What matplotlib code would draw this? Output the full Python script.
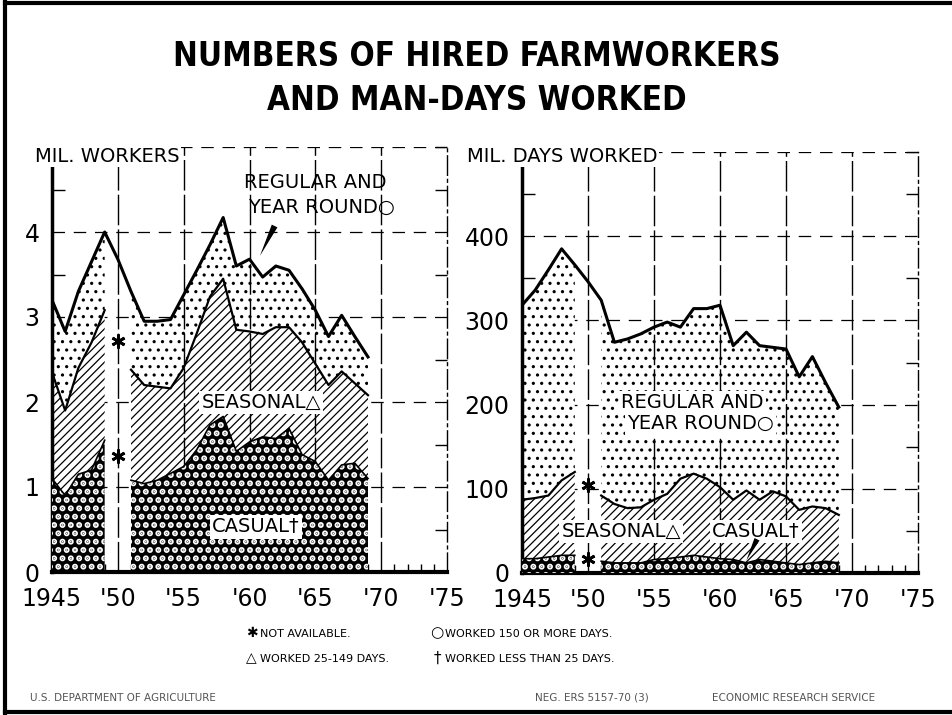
import numpy as np
import matplotlib
matplotlib.use('Agg')
import matplotlib.pyplot as plt
from matplotlib import font_manager as fm
from matplotlib.ticker import MultipleLocator

# data (1950 breakdown not available)
years = np.arange(1945, 1970)
total_workers = [3.2, 2.83, 3.3, 3.65, 4.0, 3.68, 3.3, 2.95, 2.95, 2.97, 3.26, 3.55, 3.85,
                 4.17, 3.6, 3.68, 3.47, 3.6, 3.55, 3.33, 3.08, 2.77, 3.02, 2.77, 2.53]
seasonal_workers = [2.35, 1.9, 2.4, 2.7, 3.08, np.nan, 2.38, 2.2, 2.18, 2.16, 2.4, 2.81, 3.24,
                    3.45, 2.85, 2.83, 2.8, 2.88, 2.88, 2.7, 2.45, 2.2, 2.36, 2.22, 2.08]
casual_workers = [1.1, 0.9, 1.15, 1.2, 1.55, np.nan, 1.08, 1.04, 1.08, 1.16, 1.24, 1.44, 1.73,
                  1.83, 1.42, 1.53, 1.59, 1.57, 1.69, 1.38, 1.3, 1.08, 1.26, 1.28, 1.1]
total_days = [318, 336, 360, 385, 366, 346, 324, 274, 278, 284, 292, 298, 292,
              314, 314, 318, 270, 286, 270, 268, 266, 233, 257, 226, 197]
seasonal_days = [87, 89, 92, 110, 120, np.nan, 92, 82, 77, 78, 87, 94, 112,
                 118, 112, 102, 87, 98, 87, 97, 91, 75, 79, 77, 69]
casual_days = [17, 17, 19, 21, 21, np.nan, 14, 12, 12, 12, 16, 17, 19,
               21, 19, 17, 16, 12, 16, 14, 12, 10, 12, 14, 12]
na_workers = [2.72, 1.37]
na_days = [104, 17]

xtick_years = [1945, 1950, 1955, 1960, 1965, 1970, 1975]
xtick_labels = ["1945", "'50", "'55", "'60", "'65", "'70", "'75"]

INK = 'black'


def set_hatch_lw(coll, lw):
    if hasattr(coll, 'set_hatch_linewidth'):
        coll.set_hatch_linewidth(lw)


def panel(ax, total, seasonal, casual, na_vals, ymax, ystep):
    total = np.array(total, float)
    seasonal = np.array(seasonal, float)
    casual = np.array(casual, float)
    segs = [years <= 1949, years >= 1951]
    for s in segs:
        with plt.rc_context({'hatch.linewidth': 1.1}):
            c = ax.fill_between(years[s], seasonal[s], total[s], facecolor='white',
                                edgecolor=INK, hatch='..', linewidth=0, zorder=2)
        set_hatch_lw(c, 1.1)
        with plt.rc_context({'hatch.linewidth': 0.9}):
            c = ax.fill_between(years[s], casual[s], seasonal[s], facecolor='white',
                                edgecolor=INK, hatch='////', linewidth=0, zorder=2)
        set_hatch_lw(c, 0.9)
        with plt.rc_context({'hatch.linewidth': 3.0}):
            c = ax.fill_between(years[s], 0, casual[s], facecolor=INK,
                                edgecolor='white', hatch='..', linewidth=0, zorder=3)
        set_hatch_lw(c, 3.0)
        ax.plot(years[s], seasonal[s], color=INK, lw=1.6, zorder=5)
        ax.plot(years[s], casual[s], color=INK, lw=1.2, zorder=5)
    ax.plot(years, total, color=INK, lw=2.2, zorder=5)
    ax.plot([1950] * len(na_vals), na_vals, ls='none', marker=(6, 2, 0), ms=10,
            mew=2.0, color=INK, zorder=6)

    for v in np.arange(ystep, ymax + ystep / 2, ystep):
        ax.axhline(v, color=INK, lw=0.9, ls=(0, (10, 7)), zorder=1)
    for yr in range(1950, 1975, 5):
        ax.axvline(yr, color=INK, lw=1.0, ls=(0, (22, 3)), zorder=2.5)

    ax.set_xlim(1945, 1975)
    ax.set_ylim(0, ymax)
    ax.set_xticks(xtick_years)
    ax.set_xticklabels(xtick_labels)
    ax.set_yticks(np.arange(0, ymax, ystep))
    ax.xaxis.set_minor_locator(MultipleLocator(1))
    ax.yaxis.set_minor_locator(MultipleLocator(ystep / 2))
    ax.tick_params(axis='x', which='major', length=0, pad=11, labelsize=17)
    ax.tick_params(axis='x', which='minor', direction='in', length=6, width=1)
    ax.tick_params(axis='y', which='major', length=0, pad=9, labelsize=17)
    ax.tick_params(axis='y', which='minor', direction='in', length=9, width=1,
                   left=True, right=True)
    ax.spines['top'].set_visible(False)
    ax.spines['left'].set_linewidth(2.5)
    ax.spines['bottom'].set_linewidth(3)
    ax.spines['right'].set_linewidth(1)
    ax.spines['right'].set_linestyle((0, (14, 3, 2, 3)))
    ax.set_facecolor('white')


fig = plt.figure(figsize=(9.53, 7.15), dpi=100)
ax1 = fig.add_axes([52 / 953, 143 / 715, 395 / 953, 425 / 715])
ax2 = fig.add_axes([522 / 953, 142 / 715, 396 / 953, 421 / 715])

panel(ax1, total_workers, seasonal_workers, casual_workers, na_workers, 5, 1)
panel(ax2, total_days, seasonal_days, casual_days, na_days, 500, 100)

lbl = dict(fontsize=14, ha='center', va='center', color=INK, zorder=7)
wbox = dict(facecolor='white', edgecolor='none', pad=1.5)

# left panel labels
ax1.text(1965.0, 4.58, "REGULAR AND", **lbl)
ax1.text(1965.5, 4.29, "YEAR ROUND○", **lbl)
ax1.annotate('', xy=(1960.7, 3.69), xytext=(1962.0, 4.1),
             arrowprops=dict(arrowstyle='wedge,tail_width=0.45', color=INK, lw=0),
             zorder=7)
ax1.text(1960.9, 1.99, "SEASONAL△", bbox=wbox, **lbl)
ax1.text(1960.5, 0.53, "CASUAL†", bbox=wbox, **lbl)

# right panel labels
ax2.text(1957.9, 202, "REGULAR AND", bbox=wbox, **lbl)
ax2.text(1958.5, 178, "YEAR ROUND○", bbox=wbox, **lbl)
ax2.text(1952.5, 49, "SEASONAL△", bbox=wbox, **lbl)
ax2.text(1962.7, 49, "CASUAL†", bbox=wbox, **lbl)
ax2.annotate('', xy=(1961.9, 12), xytext=(1962.9, 43),
             arrowprops=dict(arrowstyle='wedge,tail_width=0.4', color=INK, lw=0),
             zorder=7)

fig.text(35 / 953, 1 - 156 / 715, "MIL. WORKERS", fontsize=14, ha='left', va='center',
         bbox=dict(facecolor='white', edgecolor='none', pad=1))
fig.text(467 / 953, 1 - 156 / 715, "MIL. DAYS WORKED", fontsize=14, ha='left', va='center',
         bbox=dict(facecolor='white', edgecolor='none', pad=1))

# title in a narrow bold face if one is installed
title_font = None
for f in fm.fontManager.ttflist:
    fn = f.fname.replace('-', '').lower()
    if ('narrow' in fn or 'condensed' in fn) and 'bold' in fn and 'italic' not in fn \
            and 'oblique' not in fn:
        title_font = fm.FontProperties(fname=f.fname)
        break
if title_font is None:
    title_font = fm.FontProperties(family='DejaVu Sans', weight='bold')

t1 = fig.text(0.5, 1 - 57 / 715, "NUMBERS OF HIRED FARMWORKERS", ha='center', va='center',
              fontproperties=title_font, fontsize=30)
t2 = fig.text(0.5, 1 - 100 / 715, "AND MAN-DAYS WORKED", ha='center', va='center',
              fontproperties=title_font, fontsize=30)
fig.canvas.draw()
r = fig.canvas.get_renderer()
w = t1.get_window_extent(r).width
size = min(30 * 605 / w, 36)
t1.set_fontsize(size)
t2.set_fontsize(size)

# footnotes
small = dict(fontsize=8, ha='left', va='center', color=INK)
fig.text(246 / 953, 1 - 633 / 715, "✱", fontsize=10, ha='left', va='center')
fig.text(260 / 953, 1 - 634 / 715, "NOT AVAILABLE.", **small)
fig.text(430 / 953, 1 - 633 / 715, "○", fontsize=11, ha='left', va='center')
fig.text(445 / 953, 1 - 634 / 715, "WORKED 150 OR MORE DAYS.", **small)
fig.text(246 / 953, 1 - 658 / 715, "△", fontsize=10, ha='left', va='center')
fig.text(260 / 953, 1 - 659 / 715, "WORKED 25-149 DAYS.", **small)
fig.text(434 / 953, 1 - 658 / 715, "†", fontsize=11, ha='left', va='center')
fig.text(445 / 953, 1 - 659 / 715, "WORKED LESS THAN 25 DAYS.", **small)

foot = dict(fontsize=7.5, ha='left', va='center', color='#555555')
fig.text(30 / 953, 1 - 698 / 715, "U.S. DEPARTMENT OF AGRICULTURE", **foot)
fig.text(535 / 953, 1 - 698 / 715, "NEG. ERS 5157-70 (3)", **foot)
fig.text(712 / 953, 1 - 698 / 715, "ECONOMIC RESEARCH SERVICE", **foot)

# page frame
for xs, ys, lw in [([5, 5], [0, 715], 3), ([5, 953], [712, 712], 3), ([5, 953], [3, 3], 3)]:
    fig.add_artist(plt.Line2D([x / 953 for x in xs], [1 - y / 715 for y in ys],
                              color=INK, lw=lw, transform=fig.transFigure))

fig.savefig('out.png', dpi=100, facecolor='white')
